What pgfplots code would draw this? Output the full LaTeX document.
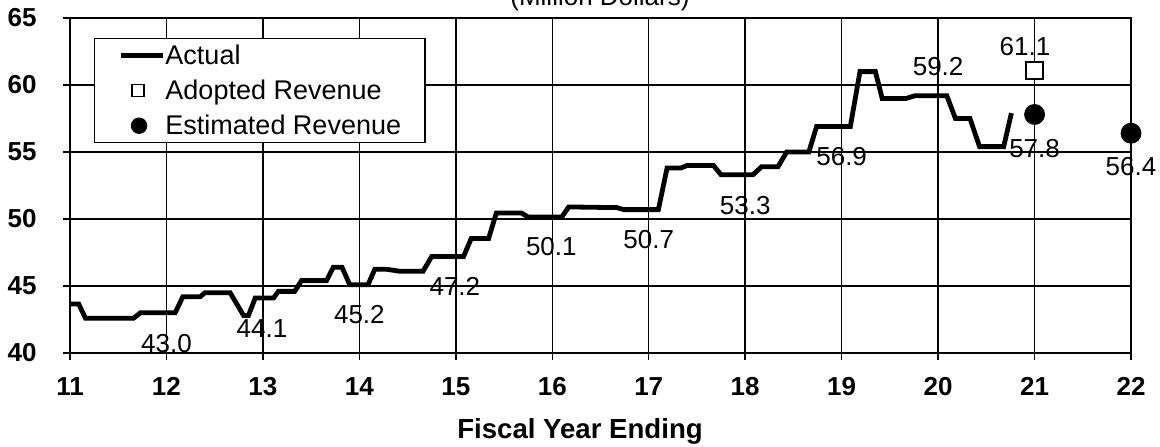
\documentclass[border=0pt]{standalone}
\usepackage{fontspec}
\setmainfont{Liberation Sans}
\usepackage{pgfplots}
\pgfplotsset{compat=1.18}

\begin{document}
\begin{tikzpicture}
\begin{axis}[
    at={(0,0)}, anchor=south west,
    scale only axis,
    width=530.5pt, height=167.5pt,
    xmin=11, xmax=22, ymin=40, ymax=65,
    xtick={11,...,22}, ytick={40,45,...,65},
    grid=major,
    major grid style={black, line width=0.7pt},
    axis line style={black, line width=0.7pt},
    tick style={black, line width=0.7pt},
    tick align=outside, tick pos=left,
    major tick length=3.5pt,
    /pgf/number format/assume math mode=true,
    ticklabel style={font=\bfseries\fontsize{13}{15}\selectfont, inner sep=0pt},
    xticklabel style={anchor=north},
    yticklabel style={anchor=east},
    xticklabel shift=8.5pt,
    yticklabel shift=13pt,
    xlabel={Fiscal Year Ending},
    every axis x label/.style={at={(rel axis cs:0.4807,0)}, anchor=base,
        yshift=-42.5pt, font=\bfseries\fontsize{13.8}{16}\selectfont},
    clip=false,
    legend cell align=left,
    legend style={at={(0.0226,0.9403)}, anchor=north west,
        draw=black, line width=0.7pt, fill=white,
        inner xsep=12pt, inner ysep=3pt,
        row sep=6.5pt,
        font=\fontsize{13.5}{16}\selectfont,
        nodes={inner xsep=0pt, inner ysep=0pt, text height=10pt, text depth=1pt},
        /tikz/every even column/.append style={column sep=0.5pt}},
]
% Actual
\addplot[black, line width=2.4pt,
    legend image code/.code={\draw[line width=2.4pt] (0pt,0pt) -- (21pt,0pt);}]
coordinates {
(11.00,43.66) (11.09,43.66) (11.16,42.6) (11.66,42.6) (11.73,43.0)
(12.09,43.0) (12.17,44.2) (12.35,44.2) (12.40,44.5) (12.66,44.5)
(12.80,42.8) (12.85,42.8) (12.92,44.1) (13.11,44.1) (13.16,44.6)
(13.33,44.6) (13.40,45.4) (13.66,45.4) (13.73,46.4) (13.82,46.4)
(13.90,45.1) (14.09,45.1) (14.16,46.25) (14.28,46.25) (14.42,46.1)
(14.66,46.1) (14.75,47.2) (15.08,47.2) (15.16,48.55) (15.34,48.55)
(15.42,50.45) (15.68,50.45) (15.75,50.15) (16.10,50.15) (16.17,50.9)
(16.67,50.85) (16.74,50.7) (17.10,50.7) (17.19,53.8) (17.33,53.8)
(17.40,54.0) (17.67,54.0) (17.75,53.3) (18.08,53.3) (18.17,53.9)
(18.34,53.9) (18.43,55.0) (18.66,55.0) (18.74,56.9) (19.09,56.9)
(19.19,61.0) (19.35,61.0) (19.42,59.0) (19.67,59.0) (19.76,59.2)
(20.09,59.2) (20.18,57.5) (20.33,57.5) (20.43,55.4) (20.68,55.4)
(20.76,57.9)
};
% Adopted
\addplot[only marks, black, mark=square*, mark size=4.25pt,
    mark options={fill=white, line width=0.8pt},
    legend image code/.code={\path[draw=none] (0pt,0pt) -- (21pt,0pt);
        \draw[line width=0.7pt, fill=white] (5.5pt,-3pt) rectangle (11.5pt,3pt);}]
coordinates {(21,61.1)};
% Estimated
\addplot[only marks, black, mark=*, mark size=5pt,
    legend image code/.code={\path[draw=none] (0pt,0pt) -- (21pt,0pt);
        \fill (9pt,0pt) circle (3.75pt);}]
coordinates {(21,57.8) (22,56.4)};
\legend{Actual, Adopted Revenue, Estimated Revenue}

\begin{scope}[every node/.style={font=\fontsize{13}{15}\selectfont, inner sep=0pt}]
\node at (axis cs:12.0,40.72) {43.0};
\node at (axis cs:12.99,41.84) {44.1};
\node at (axis cs:14.0,42.84) {45.2};
\node at (axis cs:14.99,44.95) {47.2};
\node at (axis cs:15.99,47.93) {50.1};
\node at (axis cs:17.0,48.48) {50.7};
\node at (axis cs:18.0,51.04) {53.3};
\node at (axis cs:19.0,54.65) {56.9};
\node at (axis cs:20.0,61.37) {59.2};
\node at (axis cs:20.9,62.86) {61.1};
\node at (axis cs:21.0,55.28) {57.8};
\node at (axis cs:22.0,53.9) {56.4};
\end{scope}
\node[anchor=base, font=\fontsize{13}{15}\selectfont]
    at ([yshift=6.5pt]rel axis cs:0.4995,1) {(Million Dollars)};
\end{axis}
\pgfresetboundingbox
\useasboundingbox (-35pt,-46.5pt) rectangle (545pt,176.5pt);
\end{tikzpicture}
\end{document}
